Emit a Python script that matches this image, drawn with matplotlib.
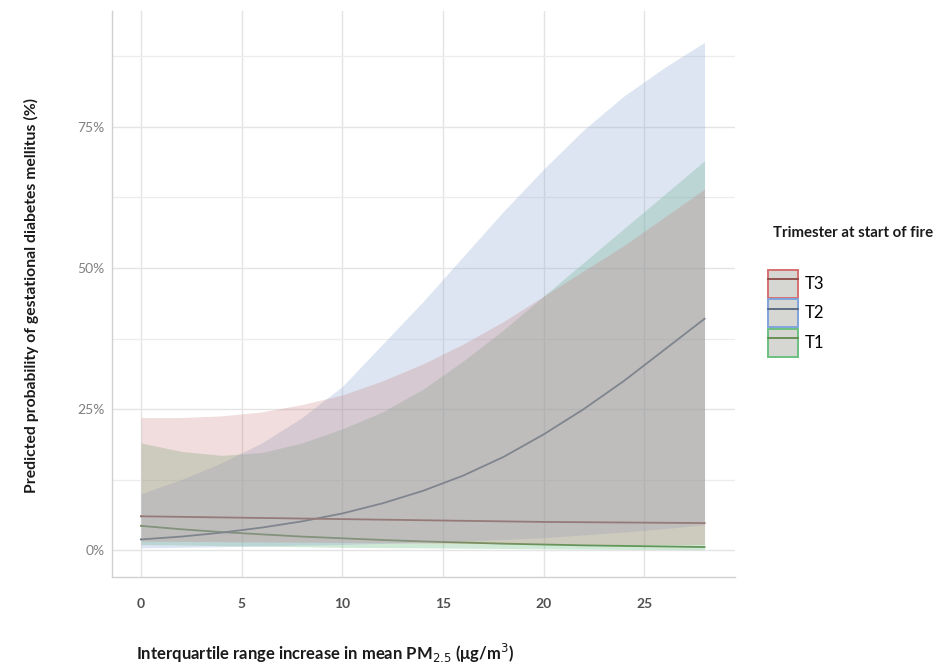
import numpy as np
import matplotlib.pyplot as plt
from matplotlib.patches import Patch
from matplotlib.lines import Line2D
from matplotlib.ticker import MultipleLocator, FuncFormatter

plt.rcParams['font.family'] = ['Lato', 'DejaVu Sans']

# IQR increase in mean PM2.5
x = [0, 2, 4, 6, 8, 10, 12, 14, 16, 18, 20, 22, 24, 26, 28]

# predicted probability (%) and confidence bands
t1_fit = [4.3, 3.7, 3.2, 2.8, 2.4, 2.1, 1.8, 1.55, 1.35, 1.15, 1.0, 0.85, 0.75, 0.65, 0.55]
t1_lo = [1.0, 0.9, 0.8, 0.7, 0.6, 0.5, 0.45, 0.4, 0.35, 0.3, 0.25, 0.2, 0.15, 0.12, 0.1]
t1_hi = [19, 17.5, 16.8, 17.3, 19, 21.5, 24.5, 28.5, 33.5, 39, 45, 51, 57, 63, 69]

t2_fit = [1.9, 2.4, 3.1, 4.0, 5.1, 6.5, 8.3, 10.5, 13.2, 16.5, 20.5, 25, 30, 35.5, 41]
t2_lo = [0.4, 0.5, 0.6, 0.75, 0.9, 1.0, 1.2, 1.4, 1.6, 1.9, 2.2, 2.7, 3.2, 3.8, 4.5]
t2_hi = [10, 12.5, 15.5, 19, 23.5, 29, 36.5, 44, 52, 60, 67.5, 74.5, 80.5, 85.5, 90]

t3_fit = [6.0, 5.9, 5.8, 5.7, 5.6, 5.5, 5.4, 5.3, 5.2, 5.1, 5.0, 4.95, 4.9, 4.85, 4.8]
t3_lo = [1.6, 1.55, 1.5, 1.45, 1.4, 1.35, 1.3, 1.25, 1.2, 1.15, 1.1, 1.05, 1.0, 1.0, 1.0]
t3_hi = [23.5, 23.5, 23.8, 24.5, 25.8, 27.5, 30, 33, 36.5, 40.5, 45, 49.5, 54, 59, 64]

groups = ['T1', 'T2', 'T3']
fits = [t1_fit, t2_fit, t3_fit]
lows = [t1_lo, t2_lo, t3_lo]
highs = [t1_hi, t2_hi, t3_hi]
fill_cols = ['#64b478', '#8caad2', '#c87878']
edge_cols = ['#6cc080', '#7fa4dc', '#d87070']
fill_alpha = [0.3, 0.3, 0.25]
line_cols = ['#5f8a4a', '#55657e', '#8e4a45']

fig = plt.figure(figsize=(9.48, 6.65), dpi=100)
ax = fig.add_axes([0.118, 0.132, 0.657, 0.851])

for fit, lc in zip(fits, line_cols):
    ax.plot(x, np.array(fit) / 100, color=lc, lw=1.3, zorder=2)
for lo, hi, fc, a in zip(lows, highs, fill_cols, fill_alpha):
    ax.fill_between(x, np.array(lo) / 100, np.array(hi) / 100, color=fc,
                    alpha=a, lw=0, zorder=3)

ax.set_xlim(-1.45, 29.5)
ax.set_ylim(-0.048, 0.955)
ax.xaxis.set_major_locator(MultipleLocator(5))
ax.yaxis.set_major_locator(MultipleLocator(0.25))
ax.yaxis.set_minor_locator(MultipleLocator(0.125))
ax.yaxis.set_major_formatter(FuncFormatter(lambda v, p: f"{v*100:.0f}%"))

ax.grid(True, which='major', color='#e4e4e4', lw=1.0, zorder=0)
ax.grid(True, which='minor', axis='y', color='#ececec', lw=0.9, zorder=0)
ax.set_axisbelow(True)
for s in ['top', 'right']:
    ax.spines[s].set_visible(False)
for s in ['left', 'bottom']:
    ax.spines[s].set_color('#d0d0d0')
    ax.spines[s].set_linewidth(1.0)
ax.tick_params(which='both', length=0)
ax.tick_params(axis='y', labelcolor='#808080', labelsize=10, pad=5)
ax.tick_params(axis='x', labelcolor='#505050', labelsize=10, pad=15)
for lab in ax.get_xticklabels():
    lab.set_fontweight('bold')

fig.text(0.033, 0.555, 'Predicted probability of gestational diabetes mellitus (%)',
         rotation=90, ha='center', va='center', fontsize=11.3, color='#1a1a1a',
         fontweight='bold')
fig.text(0.143, 0.018, r'Interquartile range increase in mean PM$_{2.5}$ (μg/m$^3$)',
         ha='left', va='center', fontsize=12, color='#1a1a1a', fontweight='bold')

# legend, order T3, T2, T1
fig.text(0.815, 0.650, 'Trimester at start of fire', fontsize=10.8,
         fontweight='bold', ha='left', va='center', color='#1a1a1a')
handles = []
for i in [2, 1, 0]:
    handles.append((Patch(facecolor='#d6d6d2', edgecolor=edge_cols[i], lw=1.4),
                    Line2D([], [], color=line_cols[i], lw=1.3)))
leg = fig.legend(handles, ['T3', 'T2', 'T1'], loc='upper left',
                 bbox_to_anchor=(0.801, 0.607), frameon=False, fontsize=12,
                 handlelength=1.8, handleheight=2.2, labelspacing=0.1,
                 handletextpad=0.45, borderpad=0)

fig.savefig('out.png', dpi=100)
